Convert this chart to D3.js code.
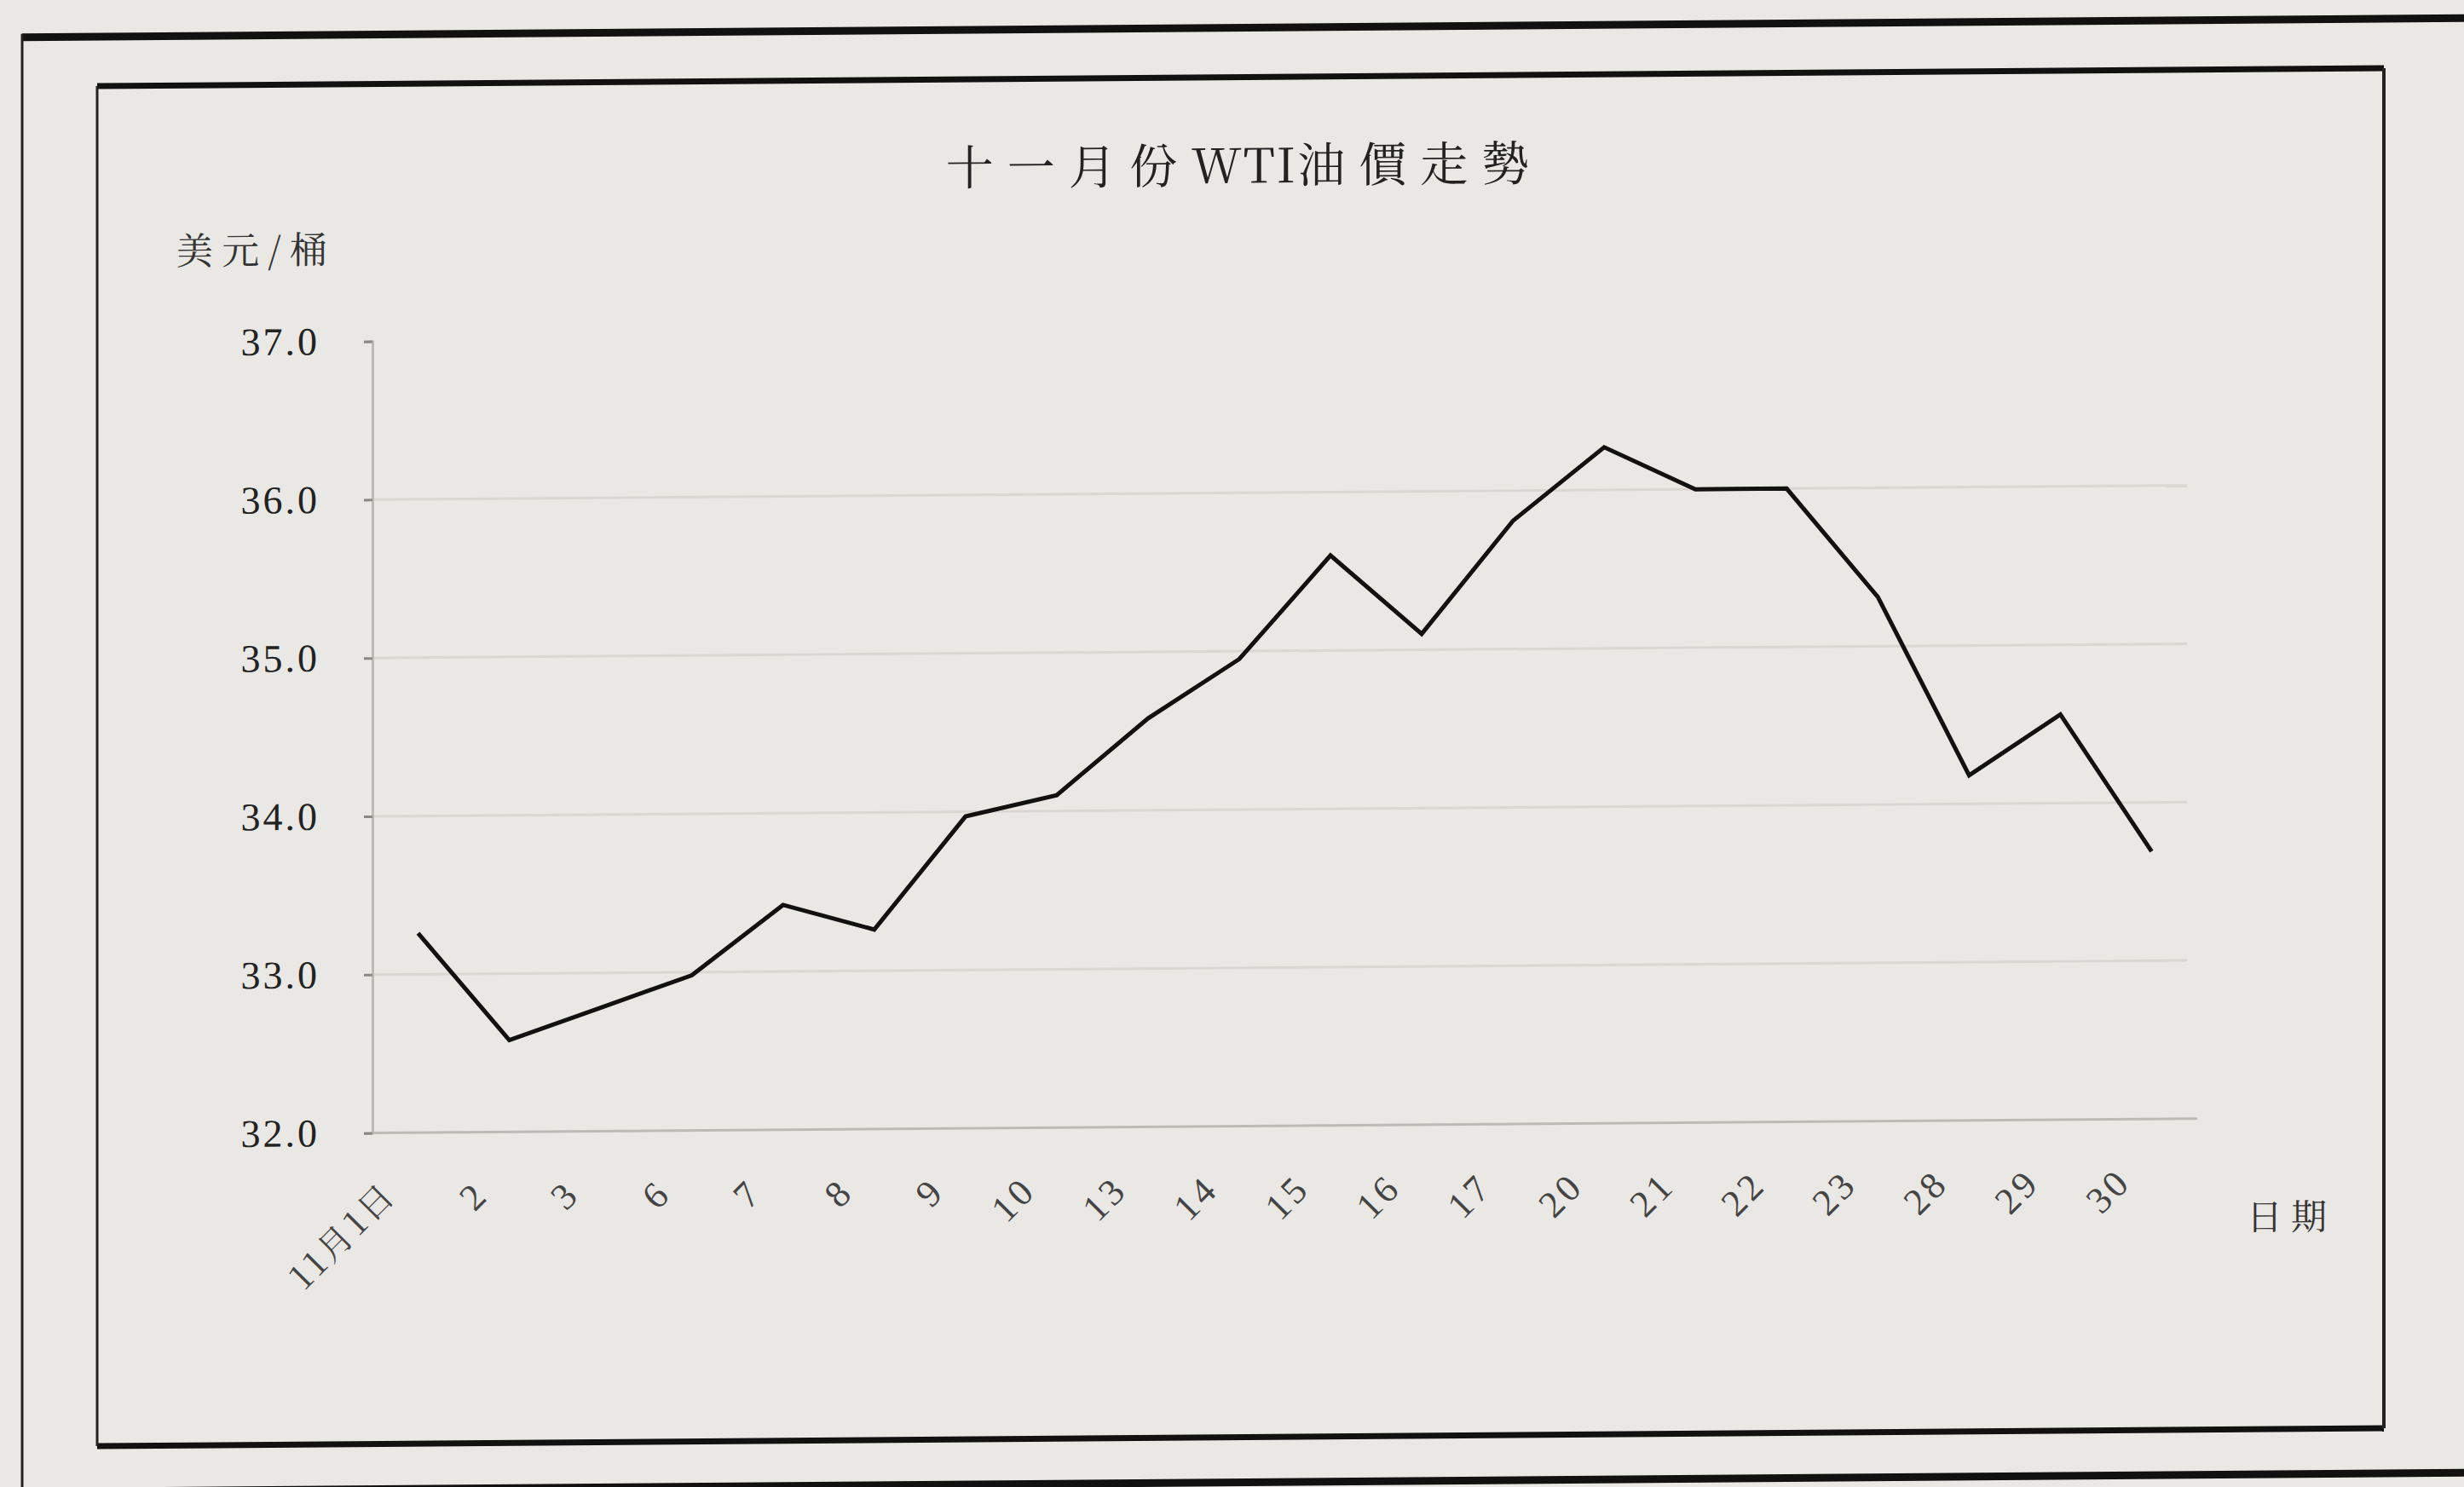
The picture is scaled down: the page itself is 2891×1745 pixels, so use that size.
<!DOCTYPE html>
<html>
<head>
<meta charset="utf-8">
<script src="https://d3js.org/d3.v7.min.js"></script>
<style>
  html, body { margin: 0; padding: 0; background: #e9e8e4; }
  svg { display: block; }
  .num { font-family: "Liberation Serif", "DejaVu Serif", serif; fill: #222; }
  .cjk { font-family: "Noto Serif CJK TC", "Noto Sans CJK TC", serif; fill: #222; }
</style>
</head>
<body>
<svg id="chart" width="2891" height="1745"></svg>
<script>
// November WTI closing prices (USD / barrel)
var dates = ["11月1日", "2", "3", "6", "7", "8", "9", "10", "13", "14",
             "15", "16", "17", "20", "21", "22", "23", "28", "29", "30"];
var prices = [33.26, 32.58, 32.78, 32.98, 33.42, 33.26, 33.97, 34.10, 34.58, 34.95,
              35.60, 35.10, 35.81, 36.27, 36.00, 36.00, 35.31, 34.18, 34.56, 33.69];
var yTicks = [32, 33, 34, 35, 36, 37];
var gridTicks = [33, 34, 35, 36];

var titleParts = ["十一月份", "WTI", "油價走勢"],
    yUnit = "美元/桶",
    xName = "日期";

var svg = d3.select("svg#chart");

svg.append("rect")
  .attr("width", 2891)
  .attr("height", 1745)
  .attr("fill", "#e9e8e4");

// the scan is slightly skewed, right side sits higher
var page = svg.append("g")
  .attr("transform", "skewY(-0.45)");

// outer frame
page.append("line").attr("x1", 26).attr("x2", 3000).attr("y1", 44).attr("y2", 44)
  .attr("stroke", "#111").attr("stroke-width", 9);
page.append("line").attr("x1", 26).attr("x2", 26).attr("y1", 40).attr("y2", 1800)
  .attr("stroke", "#222").attr("stroke-width", 3);
page.append("line").attr("x1", 0).attr("x2", 3000).attr("y1", 1751).attr("y2", 1751)
  .attr("stroke", "#111").attr("stroke-width", 9);

// inner frame
var frame = {left: 114, right: 2797, top: 102, bottom: 1698};
page.append("line").attr("x1", frame.left).attr("x2", frame.right).attr("y1", frame.top).attr("y2", frame.top)
  .attr("stroke", "#111").attr("stroke-width", 7);
page.append("line").attr("x1", frame.left).attr("x2", frame.right).attr("y1", frame.bottom).attr("y2", frame.bottom)
  .attr("stroke", "#111").attr("stroke-width", 7);
page.append("line").attr("x1", frame.left).attr("x2", frame.left).attr("y1", frame.top).attr("y2", frame.bottom)
  .attr("stroke", "#222").attr("stroke-width", 3);
page.append("line").attr("x1", frame.right).attr("x2", frame.right).attr("y1", frame.top).attr("y2", frame.bottom)
  .attr("stroke", "#222").attr("stroke-width", 4);

var plot = {left: 437, right: 2578, top: 404, bottom: 1333};

var x = d3.scalePoint()
  .domain(dates)
  .range([plot.left, plot.right])
  .padding(0.5);

var y = d3.scaleLinear()
  .domain([32, 37])
  .range([plot.bottom, plot.top]);

// gridlines
page.append("g")
  .selectAll("line")
  .data(gridTicks)
  .enter().append("line")
  .attr("x1", plot.left)
  .attr("x2", plot.right - 12)
  .attr("y1", function(d) { return y(d); })
  .attr("y2", function(d) { return y(d); })
  .attr("stroke", "#dad7d3")
  .attr("stroke-width", 3);

// y axis
var yAxis = page.append("g")
  .attr("transform", "translate(" + plot.left + ",0)")
  .call(d3.axisLeft(y).tickValues(yTicks).tickSize(10).tickPadding(52)
    .tickFormat(d3.format(".1f")));
yAxis.select(".domain").attr("stroke", "#bdbab6").attr("stroke-width", 3);
yAxis.selectAll(".tick line").attr("stroke", "#8a8784").attr("stroke-width", 3);
yAxis.selectAll(".tick text")
  .attr("class", "num")
  .attr("font-size", 46)
  .attr("letter-spacing", 3)
  .attr("fill", "#222");

// x axis line
page.append("line")
  .attr("x1", plot.left).attr("x2", plot.right)
  .attr("y1", y(32)).attr("y2", y(32))
  .attr("stroke", "#bdbab6")
  .attr("stroke-width", 3);

// x tick labels, rotated
page.append("g")
  .selectAll("text")
  .data(dates)
  .enter().append("text")
  .attr("class", function(d) { return d.length > 2 ? "cjk" : "num"; })
  .attr("transform", function(d) { return "translate(" + (x(d) - 33) + "," + 1398 + ") rotate(-45)"; })
  .attr("text-anchor", "end")
  .attr("dy", "0.35em")
  .attr("font-size", function(d) { return d.length > 2 ? 40 : 44; })
  .attr("letter-spacing", 4)
  .style("fill", "#444")
  .text(function(d) { return d; });

// price line
var line = d3.line()
  .x(function(d, i) { return x(dates[i]); })
  .y(function(d) { return y(d); });

page.append("path")
  .datum(prices)
  .attr("fill", "none")
  .attr("stroke", "#111")
  .attr("stroke-width", 5)
  .attr("stroke-linejoin", "miter")
  .attr("d", line);

// titles
var titleText = page.append("text")
  .attr("class", "cjk")
  .attr("x", 1460)
  .attr("y", 202)
  .attr("text-anchor", "middle")
  .attr("dominant-baseline", "central")
  .attr("font-size", 56);

titleText.selectAll("tspan")
  .data(titleParts)
  .enter().append("tspan")
  .attr("letter-spacing", function(d, i) { return i == 1 ? 2 : 16; })
  .text(function(d) { return d; });

page.append("text")
  .attr("class", "cjk")
  .attr("x", 300)
  .attr("y", 293)
  .attr("text-anchor", "middle")
  .attr("dominant-baseline", "central")
  .attr("font-size", 44)
  .attr("letter-spacing", 10)
  .style("fill", "#333")
  .text(yUnit);

page.append("text")
  .attr("class", "cjk")
  .attr("x", 2688)
  .attr("y", 1446)
  .attr("text-anchor", "middle")
  .attr("dominant-baseline", "central")
  .attr("font-size", 42)
  .attr("letter-spacing", 10)
  .style("fill", "#333")
  .text(xName);
</script>
</body>
</html>
